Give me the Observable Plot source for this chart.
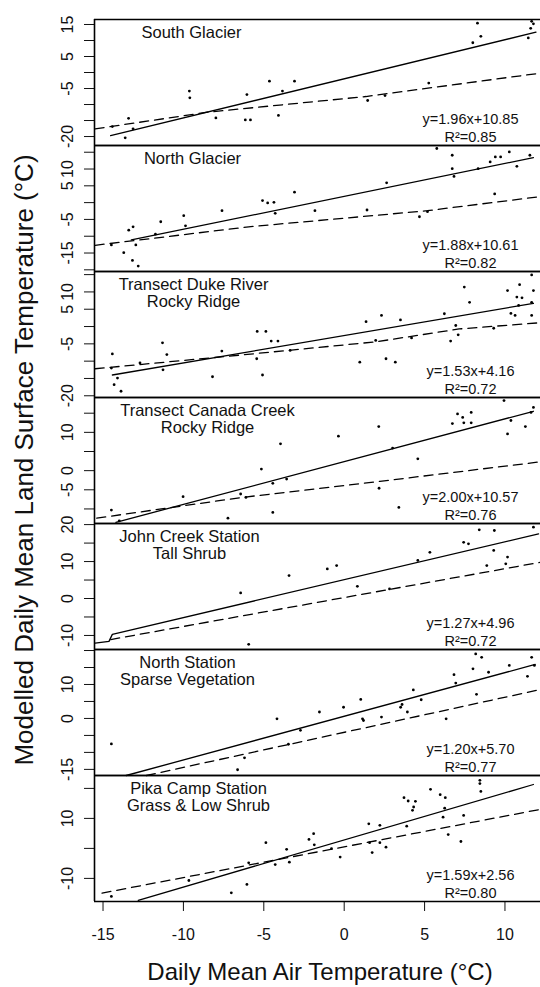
<!DOCTYPE html>
<html>
<head>
<meta charset="utf-8">
<script src="https://cdn.jsdelivr.net/npm/d3@7"></script>
<script src="https://cdn.jsdelivr.net/npm/@observablehq/plot@0.6"></script>
<style>
  html, body { margin: 0; padding: 0; background: #fff; }
  #wrap { position: relative; width: 540px; height: 987px; overflow: hidden; font-family: "Liberation Sans", Arial, sans-serif; }
  .panel { position: absolute; left: 0; }
  #titles { position: absolute; left: 0; top: 0; pointer-events: none; }
</style>
</head>
<body>
<div id="wrap"></div>
<script>
// ---------------- DATA ----------------
const panelTitles = [
  "South Glacier",
  "North Glacier",
  "Transect Duke River\nRocky Ridge",
  "Transect Canada Creek\nRocky Ridge",
  "John Creek Station\nTall Shrub",
  "North Station\nSparse Vegetation",
  "Pika Camp Station\nGrass & Low Shrub"
];
const equations = ["y=1.96x+10.85", "y=1.88x+10.61", "y=1.53x+4.16", "y=2.00x+10.57", "y=1.27x+4.96", "y=1.20x+5.70", "y=1.59x+2.56"];
const rSquared = ["R²=0.85", "R²=0.82", "R²=0.72", "R²=0.76", "R²=0.72", "R²=0.77", "R²=0.80"];

const xTicks = [-15, -10, -5, 0, 5, 10];
const yTickValues = [
  [-20, -15, -10, -5, 0, 5, 10, 15],
  [-20, -15, -10, -5, 0, 5, 10, 15],
  [-20, -15, -10, -5, 0, 5, 10, 15],
  [-10, -5, 0, 5, 10, 15],
  [-10, -5, 0, 5, 10, 15, 20],
  [-15, -10, -5, 0, 5, 10, 15, 20],
  [-10, 0, 10, 20]
];
const yTickLabels = [
  [15, 5, -5, -20],
  [10, 5, -5, -15],
  [10, 5, -5, -20],
  [10, 0, -5],
  [20, 10, 0, -10],
  [10, 0, -15],
  [10, -10]
];

// points [air temperature, modelled LST]
const southGlacierPts = [[8.29,15.4],[8.5,11.3],[8.0,9.3],[11.66,16.0],[11.6,13.8],[11.45,10.8],[11.77,15.2],[-9.63,-5.8],[-9.6,-7.9],[-4.65,-2.7],[-3.09,-2.7],[-3.84,-5.8],[-6.05,-6.9],[-6.15,-14.8],[-5.83,-14.8],[-4.09,-13.4],[-7.98,-14.2],[-13.41,-14.3],[-13.62,-20.4],[-13.13,-17.6],[-14.42,-16.9],[1.46,-8.75],[2.54,-7.2],[5.26,-3.3]];
const northGlacierPts = [[5.76,16.1],[6.72,14.1],[6.72,10.1],[6.83,7.8],[8.33,10.1],[9.08,12.1],[9.4,13.6],[9.73,13.6],[10.27,15.1],[10.74,10.8],[11.55,14.1],[2.64,5.9],[-3.09,3.1],[-5.08,0.6],[-4.76,-0.1],[-4.37,0.1],[-4.29,-3.2],[-1.82,-2.4],[1.42,-2.2],[4.68,-4.2],[5.18,-2.7],[9.36,2.6],[-7.6,-2.4],[-9.98,-3.9],[-9.87,-6.9],[-11.41,-5.7],[-13.13,-7.2],[-13.4,-8.2],[-11.74,-9.4],[-12.96,-12.6],[-13.71,-14.9],[-13.17,-17.2],[-12.81,-18.9],[-14.48,-12.6]];
const dukeRiverPts = [[7.47,11.4],[7.8,7.0],[6.23,3.7],[6.94,0.3],[7.09,-2.4],[6.62,-4.2],[10.16,10.4],[10.91,12.1],[11.66,14.9],[11.77,10.4],[10.74,8.5],[11.06,8.3],[11.66,7.0],[10.37,3.8],[10.63,3.2],[11.66,3.2],[10.85,6.1],[9.3,-0.5],[3.5,1.9],[2.32,3.2],[1.36,1.4],[1.96,-4.0],[4.19,-3.3],[0.97,-10.3],[2.6,-9.3],[3.18,-10.3],[-5.41,-1.4],[-4.87,-1.4],[-4.54,-4.2],[-4.12,-4.2],[-3.36,-6.9],[-5.08,-14.0],[-5.44,-9.3],[-8.19,-14.5],[-7.61,-7.1],[-11.3,-4.7],[-11.03,-8.1],[-12.7,-10.5],[-11.27,-12.5],[-14.42,-7.9],[-14.48,-12.0],[-14.1,-14.9],[-14.31,-16.8],[-13.88,-18.7]];
const canadaCreekPts = [[9.94,18.3],[11.77,16.5],[11.62,15.2],[7.05,14.8],[7.37,13.9],[7.9,15.2],[6.73,12.3],[7.44,12.5],[7.9,12.5],[10.37,13.1],[10.16,9.6],[11.27,11.5],[2.15,11.5],[-0.36,9.0],[-3.96,7.0],[3.01,5.9],[4.58,3.1],[-5.15,0.4],[-4.44,-3.3],[-3.58,-2.2],[2.17,-4.6],[-6.44,-6.1],[-6.11,-7.0],[-10.02,-6.8],[3.4,-9.6],[-4.44,-10.9],[-7.23,-12.4],[-14.48,-10.3],[-13.99,-13.1]];
const johnCreekPts = [[11.77,19.3],[8.4,18.6],[9.34,18.4],[7.43,15.2],[7.73,14.8],[9.3,13.0],[10.16,11.2],[10.05,9.4],[8.87,8.9],[5.33,12.5],[4.58,10.3],[-0.47,8.9],[-1.05,8.0],[-3.43,6.2],[0.82,3.3],[2.82,2.6],[-6.44,1.5],[-5.94,-12.4]];
const northStationPts = [[8.18,19.0],[8.55,18.0],[11.66,18.0],[10.27,15.6],[8.01,14.6],[8.98,13.6],[6.83,12.9],[6.94,10.4],[11.4,12.4],[11.83,15.6],[4.3,8.4],[4.79,5.5],[8.23,7.1],[1.03,5.6],[-0.04,3.3],[-1.54,1.9],[-4.18,-0.1],[1.14,-0.1],[1.2,-0.6],[2.32,0.4],[3.51,3.3],[3.6,4.1],[3.93,1.9],[6.34,-0.1],[-2.72,-3.5],[-3.47,-7.6],[-6.2,-11.6],[-6.63,-15.1],[-14.48,-7.5]];
const pikaCampPts = [[8.44,22.7],[8.44,21.6],[8.5,19.0],[5.37,19.7],[5.97,17.9],[6.29,16.9],[3.72,16.9],[3.98,15.8],[4.43,15.7],[4.32,13.8],[4.25,12.7],[6.25,13.4],[6.15,10.4],[7.43,11.0],[6.47,4.6],[7.26,2.3],[3.89,7.4],[1.53,8.2],[2.22,7.7],[1.58,1.9],[1.74,-1.4],[2.22,1.9],[2.6,0.4],[-2.19,3.0],[-1.9,4.9],[-1.86,1.2],[-0.79,-0.1],[-0.25,-2.9],[-4.87,1.9],[-3.58,-0.3],[-3.41,-4.6],[-4.29,-5.4],[-5.94,-4.8],[-6.05,-12.0],[-7.02,-14.8],[-9.66,-10.7],[-14.48,-16.0]];

// fitted (solid) and comparison (dashed) lines
const southGlacierFit = [[-14.53,-19.7],[11.93,12.6]];
const southGlacierDash = [[-15.49,-17.6],[-8.5,-12.4],[1.35,-7.5],[12.2,-0.2]];
const northGlacierFit = [[-13.24,-11.1],[11.77,13.4]];
const northGlacierDash = [[-15.49,-12.7],[-5.94,-7.2],[5.18,-2.4],[12.2,1.8]];
const dukeRiverFit = [[-14.42,-14.0],[11.77,6.7]];
const dukeRiverDash = [[-15.49,-12.2],[-6.37,-8.2],[2.0,-4.4],[7.15,-0.7],[12.2,1.1]];
const canadaCreekFit = [[-14.2,-13.5],[11.77,15.5]];
const canadaCreekDash = [[-15.39,-12.4],[-6.37,-7.0],[2.22,-2.8],[12.2,2.3]];
const johnCreekFit = [[-15.49,-12.1],[-14.63,-11.6],[-14.42,-9.7],[12.09,17.5]];
const johnCreekDash = [[-14.52,-11.1],[12.2,9.8]];
const northStationFit = [[-13.56,-16.8],[11.88,15.9]];
const northStationDash = [[-12.3,-16.8],[12.09,8.4]];
const pikaCampFit = [[-12.81,-17.3],[11.77,21.3]];
const pikaCampDash = [[-15.06,-14.9],[12.09,12.9]];

// ---------------- SCALE / LAYOUT CONFIG ----------------
const xDomain = [-15.53, 12.21];
const yDomains = [[-22.8,16.56],[-20.5,17.0],[-20.5,15.9],[-13.8,19.1],[-13.8,20.3],[-16.8,20.3],[-17.7,24.3]];
const titleDx = [97, 98, 99, 113, 95, 93, 104];
const PANEL_TOP = 19, PANEL_H = 126, PAD = 2, BOTTOM_MARGIN = 60;
const FONT = '"Liberation Sans", Arial, sans-serif';
const INK = "#111";

const panels = [
  {pts: southGlacierPts, fit: southGlacierFit, dash: southGlacierDash},
  {pts: northGlacierPts, fit: northGlacierFit, dash: northGlacierDash},
  {pts: dukeRiverPts, fit: dukeRiverFit, dash: dukeRiverDash},
  {pts: canadaCreekPts, fit: canadaCreekFit, dash: canadaCreekDash},
  {pts: johnCreekPts, fit: johnCreekFit, dash: johnCreekDash},
  {pts: northStationPts, fit: northStationFit, dash: northStationDash},
  {pts: pikaCampPts, fit: pikaCampFit, dash: pikaCampDash}
];

const wrap = document.getElementById("wrap");

panels.forEach((p, i) => {
  const last = i === panels.length - 1;
  const yDom = yDomains[i];
  const mb = last ? BOTTOM_MARGIN : PAD;
  const chart = Plot.plot({
    width: 540,
    height: PANEL_H + PAD + mb,
    marginLeft: 94,
    marginRight: 0,
    marginTop: PAD,
    marginBottom: mb,
    style: {background: "transparent", overflow: "visible", fontFamily: FONT, fontSize: "16px", color: INK},
    x: last
      ? {domain: xDomain, ticks: xTicks, tickSize: 10, tickPadding: 17, tickFormat: d => String(d), label: null}
      : {domain: xDomain, axis: null},
    y: {domain: yDom, ticks: yTickValues[i], tickSize: 10, tickFormat: () => "", label: null},
    marks: [
      Plot.ruleY([yDom[0], yDom[1]], {stroke: "#000", strokeWidth: 1.6}),
      Plot.ruleX([xDomain[0]], {stroke: "#000", strokeWidth: 1.6}),
      Plot.line(p.dash, {x: d => d[0], y: d => d[1], stroke: "#000", strokeWidth: 1.3, strokeDasharray: "9,6"}),
      Plot.line(p.fit, {x: d => d[0], y: d => d[1], stroke: "#000", strokeWidth: 1.3}),
      Plot.dot(p.pts, {x: d => d[0], y: d => d[1], r: 1.4, fill: "#000", stroke: null}),
      Plot.text(yTickLabels[i], {y: d => d, text: d => String(d), frameAnchor: "left", dx: -26.5, rotate: -90,
        textAnchor: "middle", lineAnchor: "middle", fontSize: 16, fill: INK}),
      Plot.text([panelTitles[i]], {text: d => d, frameAnchor: "top-left", dx: titleDx[i], dy: 7,
        textAnchor: "middle", lineAnchor: "top", lineHeight: 1, fontSize: 16.5, fill: INK}),
      Plot.text([equations[i]], {text: d => d, frameAnchor: "bottom-right", dx: -70, dy: -26,
        textAnchor: "middle", lineAnchor: "middle", fontSize: 14.5, fill: INK}),
      Plot.text([rSquared[i]], {text: d => d, frameAnchor: "bottom-right", dx: -70, dy: -8,
        textAnchor: "middle", lineAnchor: "middle", fontSize: 14.5, fill: INK})
    ]
  });
  chart.classList.add("panel");
  chart.style.position = "absolute";
  chart.style.top = (PANEL_TOP + i * PANEL_H - PAD) + "px";
  chart.style.left = "0px";
  wrap.appendChild(chart);
});

// axis titles
const ns = "http://www.w3.org/2000/svg";
const t = document.createElementNS(ns, "svg");
t.setAttribute("id", "titles");
t.setAttribute("width", 540);
t.setAttribute("height", 987);
t.style.fontFamily = FONT;
const xt = document.createElementNS(ns, "text");
xt.setAttribute("x", 320);
xt.setAttribute("y", 980);
xt.setAttribute("text-anchor", "middle");
xt.setAttribute("font-size", "24");
xt.setAttribute("fill", INK);
xt.textContent = "Daily Mean Air Temperature (°C)";
t.appendChild(xt);
const yt = document.createElementNS(ns, "text");
yt.setAttribute("transform", "translate(33,460) rotate(-90)");
yt.setAttribute("text-anchor", "middle");
yt.setAttribute("font-size", "26");
yt.setAttribute("fill", INK);
yt.textContent = "Modelled Daily Mean Land Surface Temperature (°C)";
t.appendChild(yt);
wrap.appendChild(t);
</script>
</body>
</html>
